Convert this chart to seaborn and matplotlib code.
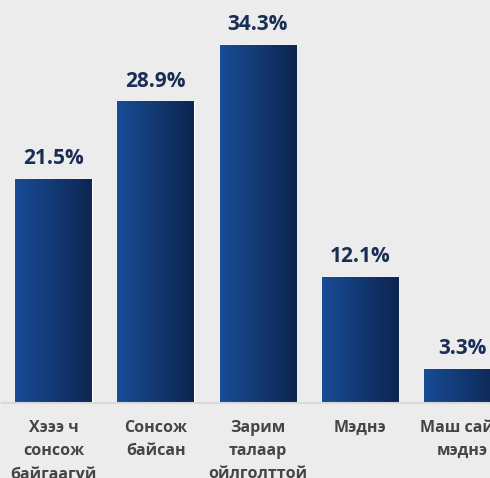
import numpy as np
import pandas as pd
import matplotlib.pyplot as plt
import seaborn as sns
from matplotlib.colors import LinearSegmentedColormap

# Data
categories = ["Хэээ ч\nсонсож\nбайгаагүй", "Сонсож\nбайсан", "Зарим\nталаар\nойлголттой",
              "Мэднэ", "Маш сайн\nмэднэ"]
values = [21.5, 28.9, 34.3, 12.1, 3.3]

df = pd.DataFrame({"category": categories, "value": values})

sns.set_style("white")
plt.rcParams["font.family"] = ["Open Sans", "DejaVu Sans"]

bg = "#ececec"
fig = plt.figure(figsize=(4.9, 4.78), dpi=100, facecolor=bg)
# axes wider than the figure so the last bar is cut, like the original
ax = fig.add_axes([2.4 / 490, 75 / 478, 511 / 490, 396.7 / 478])
ax.set_facecolor(bg)

sns.barplot(data=df, x="category", y="value", width=0.75, color="#174a94", ax=ax)

# horizontal gradient on each bar
cmap = LinearSegmentedColormap.from_list("navy", ["#184c96", "#0d2550"])
grad = np.linspace(0, 1, 256).reshape(1, -1)
for bar in ax.patches:
    x0, y0 = bar.get_x(), bar.get_y()
    w, h = bar.get_width(), bar.get_height()
    im = ax.imshow(grad, cmap=cmap, aspect="auto", extent=[x0, x0 + w, y0, y0 + h], zorder=bar.get_zorder() + 0.1)
    im.set_clip_path(bar)

# value labels
for i, v in enumerate(values):
    ax.annotate(f"{v}%", (i, v), xytext=(0, 7), textcoords="offset points",
                ha="center", va="bottom", fontsize=15, fontweight="bold", color="#1a2d55")

ax.set_xlim(-0.5, 4.5)
ax.set_ylim(0, 38)
ax.set_xlabel("")
ax.set_ylabel("")
ax.set_yticks([])
ax.tick_params(axis="x", length=0, pad=12)
for lab in ax.get_xticklabels():
    lab.set_fontsize(11.5)
    lab.set_fontweight("bold")
    lab.set_color("#454545")
    lab.set_linespacing(1.6)
    lab.set_va("top")

for s in ["top", "right", "left"]:
    ax.spines[s].set_visible(False)
ax.spines["bottom"].set_color("#d9d9d9")
ax.spines["bottom"].set_linewidth(1.5)

plt.savefig("out.png", dpi=100, facecolor=bg)
